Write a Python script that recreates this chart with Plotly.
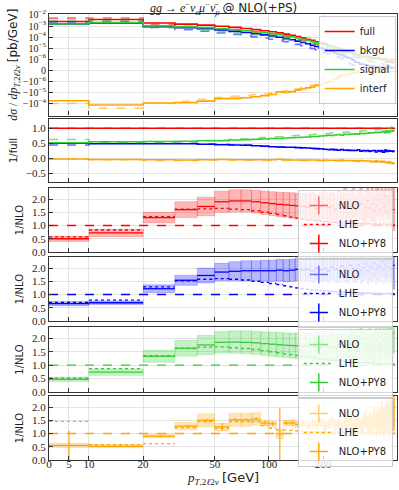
import numpy as np
import plotly.graph_objects as go
from plotly.subplots import make_subplots

# ---- data -----------------------------------------------------------------
edges = [0, 10, 20, 30, 40, 50, 60, 70, 80, 90, 100, 110, 120, 130, 140, 150,
         160, 170, 180, 190, 200, 210, 220, 230, 240, 250, 260, 270, 280, 290,
         300, 310, 320, 330, 340, 350, 360, 370, 380, 390, 400, 410, 420, 430,
         440, 450, 460, 470, 480, 490, 500]

# NLO d(sigma)/dpT of the full process [pb/GeV]
nlo_full = [5.2e-3, 5.4e-3, 1.46e-3, 9.4e-4, 7.0e-4, 5.0e-4, 3.9e-4, 3.1e-4, 2.5e-4, 2.04e-4,
            1.64e-4, 1.33e-4, 1.04e-4, 8.2e-5, 6.3e-5, 4.9e-5, 3.8e-5, 2.9e-5, 2.3e-5, 1.76e-5,
            1.4e-5, 1.1e-5, 8.6e-6, 6.8e-6, 5.4e-6, 4.3e-6, 3.5e-6, 2.8e-6, 2.3e-6, 1.85e-6,
            1.5e-6, 1.35e-6, 1.2e-6, 1.1e-6, 1.0e-6, 9.2e-7, 8.5e-7, 7.9e-7, 7.4e-7, 6.9e-7,
            6.5e-7, 6.1e-7, 5.8e-7, 5.5e-7, 5.2e-7, 5.0e-7, 4.8e-7, 4.6e-7, 4.4e-7, 4.2e-7]

# NLO fractions of the full process
frac_bkgd = [0.44, 0.50, 0.50, 0.50, 0.48, 0.47, 0.45, 0.44, 0.42, 0.41,
             0.39, 0.38, 0.37, 0.36, 0.35, 0.34, 0.33, 0.32, 0.31, 0.30,
             0.29, 0.28, 0.28, 0.27, 0.27, 0.26, 0.26, 0.26, 0.25, 0.25,
             0.25, 0.24, 0.24, 0.24, 0.23, 0.24, 0.23, 0.23, 0.22, 0.23,
             0.22, 0.23, 0.21, 0.22, 0.24, 0.21, 0.23, 0.26, 0.22, 0.25]
frac_signal = [0.63, 0.53, 0.53, 0.55, 0.59, 0.61, 0.63, 0.65, 0.67, 0.69,
               0.71, 0.72, 0.74, 0.75, 0.76, 0.77, 0.78, 0.79, 0.80, 0.81,
               0.82, 0.83, 0.84, 0.85, 0.86, 0.86, 0.87, 0.88, 0.88, 0.89,
               0.90, 0.90, 0.91, 0.92, 0.92, 0.93, 0.94, 0.93, 0.95, 0.96,
               0.95, 0.97, 0.96, 0.98, 1.00, 0.96, 1.02, 0.98, 1.05, 1.00]
frac_interf = [-0.02, -0.05, -0.07, -0.07, -0.06, -0.06, -0.06, -0.065, -0.065, -0.07,
               -0.07, -0.07, -0.07, -0.075, -0.075, -0.075, -0.08, -0.08, -0.08, -0.08,
               -0.08, -0.085, -0.085, -0.09, -0.09, -0.09, -0.095, -0.095, -0.1, -0.1,
               -0.1, -0.105, -0.11, -0.11, -0.115, -0.12, -0.12, -0.125, -0.13, -0.13,
               -0.135, -0.14, -0.145, -0.15, -0.155, -0.16, -0.165, -0.17, -0.18, -0.19]

# NLO+PY8 / NLO
py8_full = [0.50, 0.72, 1.30, 1.60, 1.72, 1.90, 1.93, 1.93, 1.90, 1.86,
            1.83, 1.80, 1.78, 1.76, 1.74, 1.72, 1.70, 1.74, 1.66, 1.72,
            1.78, 1.68, 1.74, 1.62, 1.78, 1.70, 1.84, 1.65, 1.72, 1.88,
            1.60, 1.75, 1.82, 1.58, 1.70, 1.94, 1.66, 1.80, 1.55, 1.76,
            2.00, 1.62, 1.86, 1.70, 2.12, 1.52, 1.92, 1.60, 2.30, 1.60]
py8_bkgd = [0.66, 0.69, 1.22, 1.54, 1.72, 1.85, 1.88, 1.90, 1.90, 1.90,
            1.90, 1.92, 1.90, 1.92, 1.95, 1.93, 1.96, 1.90, 2.00, 1.94,
            1.98, 1.90, 2.04, 1.95, 1.92, 2.08, 1.96, 1.90, 2.10, 1.98,
            1.94, 2.12, 1.92, 2.02, 2.16, 1.90, 2.06, 2.00, 2.20, 1.95,
            2.10, 2.02, 2.25, 1.92, 2.15, 2.05, 2.30, 1.98, 2.20, 2.10]
py8_signal = [0.47, 0.74, 1.33, 1.63, 1.75, 1.85, 1.86, 1.85, 1.83, 1.80,
              1.78, 1.76, 1.74, 1.73, 1.72, 1.70, 1.71, 1.68, 1.72, 1.66,
              1.74, 1.68, 1.70, 1.64, 1.76, 1.66, 1.72, 1.62, 1.78, 1.68,
              1.70, 1.60, 1.80, 1.66, 1.74, 1.58, 1.82, 1.64, 1.70, 1.90,
              1.60, 1.78, 1.68, 1.95, 1.58, 1.84, 1.72, 2.05, 1.70, 2.20]
py8_interf = [0.55, 0.52, 0.90, 1.28, 1.50, 1.25, 1.52, 1.52, 1.55, 1.40,
              1.37, 0.98, 1.40, 1.40, 1.35, 1.35, 1.30, 1.38, 1.32, 1.42,
              1.28, 1.36, 1.45, 1.30, 1.38, 1.25, 1.42, 1.34, 1.48, 1.30,
              1.36, 1.50, 1.28, 1.40, 1.55, 1.32, 1.45, 1.38, 1.60, 1.35,
              1.50, 1.42, 1.65, 1.40, 1.55, 1.70, 1.45, 1.80, 1.60, 2.00]

# LHE / NLO
lhe_full = [0.57, 0.83, 1.33, 1.62, 1.63, 1.65, 1.62, 1.60, 1.56, 1.50,
            1.46, 1.42, 1.37, 1.32, 1.28, 1.25, 1.22, 1.20, 1.18, 1.16,
            1.15, 1.14, 1.13, 1.12, 1.12, 1.11, 1.10, 1.10, 1.09, 1.09,
            1.08, 1.08, 1.07, 1.08, 1.06, 1.07, 1.06, 1.05, 1.06, 1.05,
            1.04, 1.06, 1.03, 1.05, 1.04, 1.02, 1.05, 1.03, 1.04, 1.02]
lhe_bkgd = [0.70, 0.79, 1.29, 1.52, 1.58, 1.60, 1.58, 1.55, 1.50, 1.46,
            1.42, 1.38, 1.33, 1.29, 1.25, 1.22, 1.20, 1.18, 1.16, 1.15,
            1.14, 1.13, 1.12, 1.11, 1.11, 1.10, 1.09, 1.09, 1.08, 1.08,
            1.07, 1.08, 1.06, 1.07, 1.05, 1.06, 1.05, 1.04, 1.06, 1.04,
            1.05, 1.03, 1.05, 1.02, 1.04, 1.03, 1.05, 1.02, 1.04, 1.03]
lhe_signal = [0.52, 0.87, 1.35, 1.62, 1.67, 1.68, 1.65, 1.62, 1.58, 1.54,
              1.50, 1.46, 1.42, 1.39, 1.36, 1.33, 1.30, 1.27, 1.25, 1.23,
              1.21, 1.20, 1.18, 1.17, 1.16, 1.15, 1.14, 1.13, 1.12, 1.12,
              1.11, 1.10, 1.10, 1.09, 1.09, 1.08, 1.08, 1.07, 1.07, 1.06,
              1.07, 1.05, 1.06, 1.05, 1.04, 1.06, 1.04, 1.05, 1.03, 1.04]
lhe_interf = [1.46, 0.58, 0.62, 1.23, 1.45, 1.20, 1.45, 1.45, 1.45, 1.30,
              1.20, 1.15, 1.13, 1.12, 1.10, 1.10, 1.09, 1.08, 1.08, 1.07,
              1.07, 1.06, 1.06, 1.05, 1.06, 1.04, 1.05, 1.04, 1.05, 1.03,
              1.04, 1.03, 1.04, 1.02, 1.03, 1.02, 1.03, 1.02, 1.03, 1.01,
              1.02, 1.01, 1.02, 1.01, 1.02, 1.01, 1.02, 1.01, 1.01, 1.00]

# half width of the NLO+PY8 uncertainty band (ratio units)
band_full = [0.10, 0.14, 0.20, 0.30, 0.35, 0.40, 0.42, 0.42, 0.43, 0.44,
             0.45, 0.46, 0.47, 0.48, 0.48, 0.50, 0.50, 0.51, 0.50, 0.52,
             0.52, 0.53, 0.52, 0.54, 0.55, 0.54, 0.56, 0.55, 0.57, 0.58,
             0.56, 0.58, 0.60, 0.57, 0.60, 0.62, 0.58, 0.62, 0.60, 0.63,
             0.65, 0.60, 0.66, 0.62, 0.70, 0.62, 0.68, 0.64, 0.75, 0.80]
band_bkgd = [0.08, 0.07, 0.15, 0.19, 0.28, 0.33, 0.36, 0.38, 0.38, 0.40,
             0.40, 0.41, 0.42, 0.42, 0.43, 0.44, 0.44, 0.45, 0.46, 0.45,
             0.47, 0.46, 0.48, 0.47, 0.48, 0.50, 0.48, 0.47, 0.52, 0.50,
             0.48, 0.53, 0.50, 0.52, 0.55, 0.50, 0.54, 0.52, 0.58, 0.52,
             0.56, 0.54, 0.60, 0.52, 0.58, 0.56, 0.65, 0.55, 0.62, 0.90]
band_signal = [0.08, 0.12, 0.22, 0.30, 0.36, 0.40, 0.42, 0.43, 0.43, 0.44,
               0.45, 0.46, 0.46, 0.47, 0.48, 0.48, 0.49, 0.50, 0.50, 0.51,
               0.52, 0.51, 0.53, 0.52, 0.54, 0.53, 0.55, 0.54, 0.56, 0.55,
               0.56, 0.55, 0.58, 0.56, 0.58, 0.57, 0.60, 0.58, 0.60, 0.62,
               0.60, 0.62, 0.62, 0.65, 0.62, 0.66, 0.64, 0.70, 0.68, 0.75]
band_interf = [0.08, 0.06, 0.06, 0.14, 0.25, 0.15, 0.25, 0.25, 0.24, 0.10,
               0.10, 0.17, 0.10, 0.12, 0.12, 0.12, 0.15, 0.14, 0.16, 0.15,
               0.18, 0.16, 0.18, 0.17, 0.20, 0.18, 0.22, 0.20, 0.24, 0.20,
               0.24, 0.26, 0.22, 0.26, 0.30, 0.25, 0.30, 0.28, 0.35, 0.30,
               0.35, 0.32, 0.40, 0.35, 0.45, 0.42, 0.50, 0.55, 0.60, 0.70]
# statistical error bars of NLO+PY8 (interference only, the others hide in the band)
stat_interf = [0.55, 0.03, 0.04, 0.05, 0.06, 0.15, 0.05, 0.05, 0.06, 0.08,
               0.08, 0.98, 0.08, 0.10, 0.10, 0.12, 0.12, 0.14, 0.14, 0.15,
               0.16, 0.18, 0.18, 0.20, 0.22, 0.22, 0.25, 0.25, 0.28, 0.28,
               0.30, 0.32, 0.32, 0.35, 0.36, 0.38, 0.40, 0.42, 0.45, 0.46,
               0.50, 0.52, 0.55, 0.58, 0.60, 0.65, 0.70, 0.75, 0.80, 0.90]

x_ticks = [0, 5, 10, 20, 50, 100, 200]

# ---- helpers ----------------------------------------------------------------
LIN = 0.222      # width (in decades) of the linear 0..10 GeV part of the symlog axis
LINTHRESH = 1e-6


def tx(x):
    x = np.asarray(x, float)
    return np.where(x < 10, x / 10 * LIN, LIN + np.log10(np.maximum(x, 10) / 10))


def ty(v):
    v = np.asarray(v, float)
    a = np.abs(v)
    return np.where(a <= LINTHRESH, v / LINTHRESH,
                    np.sign(v) * (1 + np.log10(np.maximum(a, LINTHRESH) / LINTHRESH)))


ex = tx(edges)
n = len(edges) - 1


def steps(vals):
    v = list(vals)
    return ex, v + [v[-1]]


def segs(vals):
    xs, ys = [], []
    for i in range(n):
        xs += [ex[i], ex[i + 1], None]
        ys += [vals[i], vals[i], None]
    return xs, ys


def boxes(lo, hi):
    xs, ys = [], []
    for i in range(n):
        xs += [ex[i], ex[i + 1], ex[i + 1], ex[i], ex[i], None]
        ys += [lo[i], lo[i], hi[i], hi[i], lo[i], None]
    return xs, ys


def vbars(vals, err):
    xs, ys = [], []
    for i in range(n):
        xc = tx((edges[i] + edges[i + 1]) / 2)
        xs += [xc, xc, None]
        ys += [vals[i] - err[i], vals[i] + err[i], None]
    return xs, ys


def rgba(rgb, a):
    return "rgba(%d,%d,%d,%s)" % (rgb[0], rgb[1], rgb[2], a)


# ---- derived series -----------------------------------------------------------
nf = np.array(nlo_full)
procs = [
    # name, colour, nlo, py8/nlo, lhe/nlo, band, stat
    ("full", (255, 0, 0), nf, np.array(py8_full), lhe_full, band_full, None),
    ("bkgd", (0, 0, 255), nf * np.array(frac_bkgd), np.array(py8_bkgd), lhe_bkgd, band_bkgd, None),
    ("signal", (50, 205, 50), nf * np.array(frac_signal), np.array(py8_signal), lhe_signal, band_signal, None),
    ("interf", (255, 165, 0), nf * np.array(frac_interf), np.array(py8_interf), lhe_interf, band_interf, stat_interf),
]
# NLO+PY8 sum of the components, used for the "1/full" panel
py8_sum = sum(p[2] * p[3] for p in procs[1:])

fig = make_subplots(rows=6, cols=1, shared_xaxes=True)

for k, (name, rgb, nlo, r_py8, r_lhe, band, stat) in enumerate(procs):
    col = rgba(rgb, 1)
    py8 = nlo * r_py8
    # top panel: absolute distributions
    x, y = steps(ty(nlo))
    fig.add_trace(go.Scatter(x=x, y=y, mode="lines", line_shape="hv",
                             line=dict(color=rgba(rgb, 0.55), width=1.6, dash="dash"),
                             showlegend=False, hoverinfo="skip"), row=1, col=1)
    x, y = steps(ty(py8))
    fig.add_trace(go.Scatter(x=x, y=y, mode="lines", line_shape="hv",
                             line=dict(color=col, width=1.6), name=name, legend="legend",
                             hoverinfo="skip"), row=1, col=1)
    # second panel: ratio to full
    x, y = steps(nlo / nf)
    fig.add_trace(go.Scatter(x=x, y=y, mode="lines", line_shape="hv",
                             line=dict(color=rgba(rgb, 0.6), width=1.5, dash="dash"),
                             showlegend=False, hoverinfo="skip"), row=2, col=1)
    x, y = steps(py8 / (py8 if k == 0 else py8_sum))
    fig.add_trace(go.Scatter(x=x, y=y, mode="lines", line_shape="hv",
                             line=dict(color=col, width=1.5),
                             showlegend=False, hoverinfo="skip"), row=2, col=1)

    # ratio to NLO panels
    row = 3 + k
    leg = "legend%d" % (2 + k)
    lo = [r - b for r, b in zip(r_py8, band)]
    hi = [r + b for r, b in zip(r_py8, band)]
    x, y = boxes(lo, hi)
    fig.add_trace(go.Scatter(x=x, y=y, mode="lines", fill="toself",
                             fillcolor=rgba(rgb, 0.28), line=dict(color=rgba(rgb, 0.3), width=0.7),
                             showlegend=False, hoverinfo="skip"), row=row, col=1)
    x, y = steps(nlo / nlo)
    fig.add_trace(go.Scatter(x=x, y=y, mode="lines", line_shape="hv",
                             line=dict(color=col, width=1.4, dash="dash"),
                             showlegend=False, hoverinfo="skip"), row=row, col=1)
    x, y = segs(r_lhe)
    fig.add_trace(go.Scatter(x=x, y=y, mode="lines",
                             line=dict(color=col, width=1.4, dash="dot"),
                             showlegend=False, hoverinfo="skip"), row=row, col=1)
    x, y = segs(r_py8)
    fig.add_trace(go.Scatter(x=x, y=y, mode="lines", line=dict(color=col, width=1.3),
                             showlegend=False, hoverinfo="skip"), row=row, col=1)
    if stat is not None:
        x, y = vbars(r_py8, stat)
        fig.add_trace(go.Scatter(x=x, y=y, mode="lines", line=dict(color=col, width=1.2),
                                 showlegend=False, hoverinfo="skip"), row=row, col=1)
    # legend entries
    fig.add_trace(go.Scatter(x=[None], y=[None], mode="markers", name="NLO", legend=leg,
                             marker=dict(symbol="cross-thin", size=13,
                                         line=dict(width=1.5, color=rgba(rgb, 0.55)))),
                  row=row, col=1)
    fig.add_trace(go.Scatter(x=[None], y=[None], mode="lines", name="LHE", legend=leg,
                             line=dict(color=col, width=1.5, dash="dot")), row=row, col=1)
    fig.add_trace(go.Scatter(x=[None], y=[None], mode="markers", name="NLO+PY8", legend=leg,
                             marker=dict(symbol="cross-thin", size=13,
                                         line=dict(width=1.5, color=col))), row=row, col=1)

# ---- layout -------------------------------------------------------------------
serif = "Liberation Serif"
sans = "DejaVu Sans"
tickfont = dict(family=serif, size=11, color="#222222")
frame = dict(showline=True, mirror=True, linecolor="#333333", linewidth=1.2,
             ticks="inside", ticklen=4, tickcolor="#333333", zeroline=False,
             showgrid=True, gridcolor="#e3e3e3", gridwidth=0.8, tickfont=tickfont,
             automargin=False)

domains = [[0.7724, 1.0], [0.6233, 0.7646], [0.4664, 0.6099],
           [0.3117, 0.4552], [0.1525, 0.2982], [0.0, 0.1435]]

xr = [0, float(tx(515))]
for i in range(6):
    fig.update_xaxes(range=xr, tickvals=tx(x_ticks), ticktext=[str(t) for t in x_ticks],
                     showticklabels=(i == 5), ticklabelstandoff=-6, **frame, row=i + 1, col=1)
    fig.update_yaxes(domain=domains[i], **frame, row=i + 1, col=1)

top_ticks = [-1e-4, -1e-5, -1e-6, 0, 1e-6, 1e-5, 1e-4, 1e-3, 1e-2]
top_text = ["−10<sup>−4</sup>", "−10<sup>−5</sup>", "−10<sup>−6</sup>", "0",
            "10<sup>−6</sup>", "10<sup>−5</sup>", "10<sup>−4</sup>", "10<sup>−3</sup>", "10<sup>−2</sup>"]
math_sub = "<sub><i>T</i>,2<i>ℓ</i>2<i>ν</i></sub>"
fig.update_yaxes(range=[-4.1, 5.09], tickvals=ty(top_ticks), ticktext=top_text,
                 tickfont=dict(family=serif, size=10, color="#222222"),
                 title=dict(text="<i>dσ</i> / <i>dp</i>" + math_sub +
                            " <span style='font-family:DejaVu Sans'>[pb/GeV]</span>",
                            font=dict(family=serif, size=12, color="#222"), standoff=2),
                 row=1, col=1)
fig.update_yaxes(range=[-0.79, 1.31], tickvals=[-0.5, 0, 0.5, 1.0],
                 ticktext=["−0.5", "0.0", "0.5", "1.0"],
                 title=dict(text="1/full", font=dict(family=sans, size=10, color="#222"), standoff=6),
                 row=2, col=1)
for r in range(3, 7):
    fig.update_yaxes(range=[0, 2.42], tickvals=[0, 0.5, 1.0, 1.5, 2.0],
                     ticktext=["0.0", "0.5", "1.0", "1.5", "2.0"],
                     title=dict(text="1/NLO", font=dict(family=sans, size=10, color="#222"), standoff=6),
                     row=r, col=1)

leg_style = dict(bgcolor="rgba(255,255,255,0.8)", bordercolor="#cccccc", borderwidth=1,
                 font=dict(family=sans, size=10, color="#222222"), xanchor="left",
                 yanchor="top", itemwidth=30, tracegroupgap=0)
fig.update_layout(
    width=399, height=490,
    margin=dict(l=49, r=2, t=14, b=30, autoexpand=False),
    paper_bgcolor="white", plot_bgcolor="white",
    legend=dict(x=0.775, y=0.9955, **leg_style),
    legend2=dict(x=0.715, y=0.6054, **leg_style),
    legend3=dict(x=0.715, y=0.4507, **leg_style),
    legend4=dict(x=0.715, y=0.2937, **leg_style),
    legend5=dict(x=0.715, y=0.139, **leg_style),
    annotations=[
        dict(text="<i>gg</i> → <i>e</i><sup>−</sup><i>ν<sub>e</sub>μ</i><sup>−</sup><i>ν̄<sub>μ</sub></i>"
                  " <span style='font-family:DejaVu Sans'>@ NLO(+PS)</span>",
             x=0.5, y=1.0, xref="paper", yref="paper", xanchor="center", yanchor="middle",
             yshift=6, showarrow=False, font=dict(family=serif, size=12, color="#222")),
        dict(text="<i>p</i>" + math_sub + " <span style='font-family:DejaVu Sans'>[GeV]</span>",
             x=0.5, y=0, xref="paper", yref="paper", xanchor="center", yanchor="middle",
             yshift=-18, showarrow=False, font=dict(family=serif, size=13, color="#222")),
    ],
)

# the page body has a default 8px margin; drop it so the figure fills the window
fig.write_html("out.html", config={"displayModeBar": False},
               post_script="document.body.style.margin='0';")
